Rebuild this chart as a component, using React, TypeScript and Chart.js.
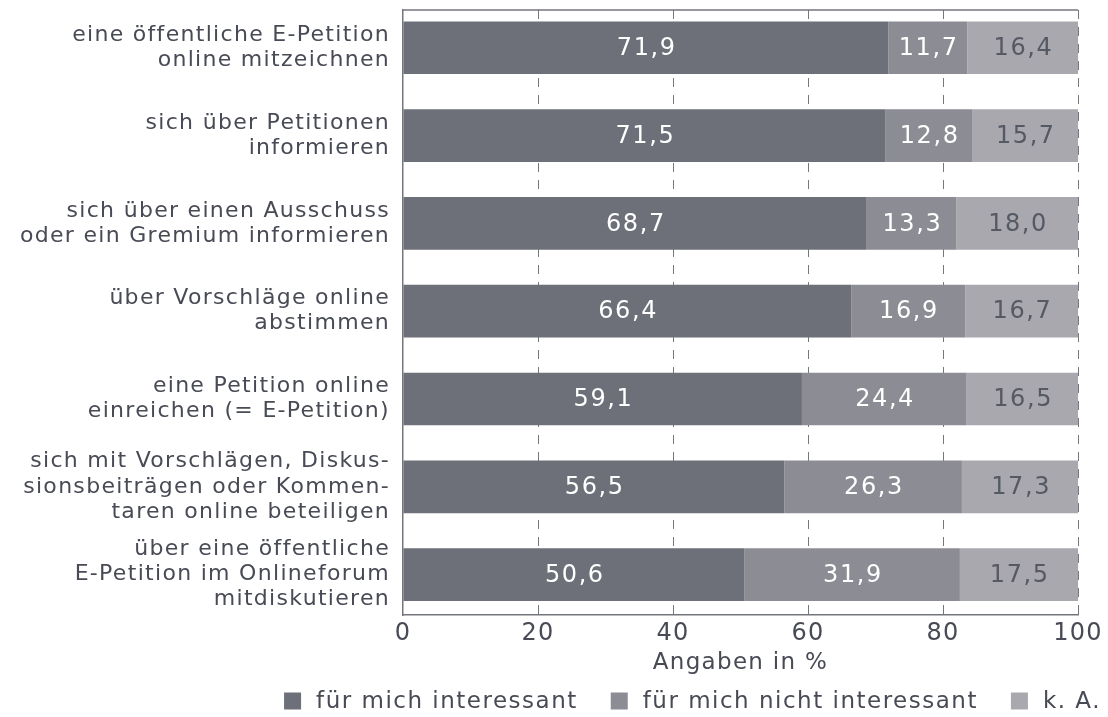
import { useEffect, useRef } from "react";
import { Chart, registerables } from "chart.js";

Chart.register(...registerables);

const CATEGORIES: string[][] = [
  ["eine öffentliche E-Petition", "online mitzeichnen"],
  ["sich über Petitionen", "informieren"],
  ["sich über einen Ausschuss", "oder ein Gremium informieren"],
  ["über Vorschläge online", "abstimmen"],
  ["eine Petition online", "einreichen (= E-Petition)"],
  ["sich mit Vorschlägen, Diskus-", "sionsbeiträgen oder Kommen-", "taren online beteiligen"],
  ["über eine öffentliche", "E-Petition im Onlineforum", "mitdiskutieren"],
];
const INTERESSANT = [71.9, 71.5, 68.7, 66.4, 59.1, 56.5, 50.6];
const NICHT_INTERESSANT = [11.7, 12.8, 13.3, 16.9, 24.4, 26.3, 31.9];
const KEINE_ANGABE = [16.4, 15.7, 18.0, 16.7, 16.5, 17.3, 17.5];
const SERIES_LABELS = ["für mich interessant", "für mich nicht interessant", "k. A."];
const SERIES_COLORS = ["#6e7079", "#8c8c94", "#a9a8ae"];
const VALUE_COLORS = ["#ffffff", "#ffffff", "#555963"];
const X_TICKS = [0, 20, 40, 60, 80, 100];
const X_TITLE = "Angaben in %";

const FONT = "'DejaVu Sans', sans-serif";
const TEXT = "#484b55";
const AXIS = "#74767e";
const LS = 1.3;

const setLS = (chart: any) => {
  (chart.ctx as any).letterSpacing = LS + "px";
};

const decor = {
  id: "decor",
  beforeUpdate: setLS,
  beforeLayout: setLS,
  beforeDraw: setLS,
  afterDatasetsDraw(chart: any) {
    const ctx = chart.ctx;
    ctx.save();
    (ctx as any).letterSpacing = "1.6px";
    ctx.font = `24px ${FONT}`;
    ctx.textAlign = "center";
    ctx.textBaseline = "middle";
    chart.data.datasets.forEach((ds: any, di: number) => {
      const meta = chart.getDatasetMeta(di);
      meta.data.forEach((bar: any, i: number) => {
        const p = bar.getProps(["x", "base", "y"], true);
        const v = ds.data[i].x as number;
        ctx.fillStyle = VALUE_COLORS[di];
        ctx.fillText(v.toFixed(1).replace(".", ","), (p.x + p.base) / 2 + 0.8, p.y + 1);
      });
    });
    ctx.restore();
  },
  afterDraw(chart: any) {
    const ctx = chart.ctx;
    const area = chart.chartArea;
    const xs = chart.scales.x;
    ctx.save();
    ctx.strokeStyle = AXIS;
    ctx.lineWidth = 1.5;
    ctx.beginPath();
    ctx.moveTo(area.left, area.top);
    ctx.lineTo(area.right, area.top);
    ctx.stroke();
    ctx.lineWidth = 1;
    X_TICKS.forEach((t) => {
      if (t === 0) return;
      const px = Math.round(xs.getPixelForValue(t)) + 0.5;
      ctx.beginPath();
      ctx.moveTo(px, area.bottom - 7);
      ctx.lineTo(px, area.bottom);
      ctx.stroke();
    });
    (ctx as any).letterSpacing = "1.5px";
    ctx.font = `23px ${FONT}`;
    ctx.textBaseline = "middle";
    ctx.textAlign = "left";
    const box = 17;
    const gap = 15;
    const itemGap = 33;
    const widths = SERIES_LABELS.map((l) => ctx.measureText(l).width);
    const total = widths.reduce((a, w) => a + box + gap + w, 0) + itemGap * (SERIES_LABELS.length - 1);
    let x = 1101 - total;
    const cy = 701;
    SERIES_LABELS.forEach((l, i) => {
      ctx.fillStyle = SERIES_COLORS[i];
      ctx.fillRect(x, cy - box / 2, box, box);
      x += box + gap;
      ctx.fillStyle = TEXT;
      ctx.fillText(l, x, cy + 1);
      x += widths[i] + itemGap;
    });
    ctx.restore();
  },
};

export default function App() {
  const ref = useRef<HTMLCanvasElement>(null);
  useEffect(() => {
    if (!ref.current) return;
    Chart.defaults.font.family = FONT;
    Chart.defaults.color = TEXT;
    const series = [INTERESSANT, NICHT_INTERESSANT, KEINE_ANGABE];
    const chart = new Chart(ref.current, {
      type: "bar",
      data: {
        datasets: series.map((vals, di) => ({
          label: SERIES_LABELS[di],
          data: vals.map((v, i) => ({ x: v, y: i })),
          backgroundColor: SERIES_COLORS[di],
          borderWidth: 0,
          barPercentage: 0.6,
          categoryPercentage: 1,
        })),
      },
      options: {
        indexAxis: "y",
        animation: false,
        responsive: true,
        maintainAspectRatio: false,
        events: [],
        layout: { padding: { top: 10, right: 30, bottom: 35, left: 0 } },
        plugins: { legend: { display: false }, tooltip: { enabled: false } },
        scales: {
          x: {
            type: "linear",
            stacked: true,
            min: 0,
            max: 100,
            afterBuildTicks: (s: any) => {
              s.ticks = X_TICKS.map((v) => ({ value: v }));
            },
            afterFit: (s: any) => {
              s.height = 67;
            },
            ticks: { font: { size: 24 }, color: TEXT, padding: 4 },
            grid: {
              display: true,
              drawTicks: false,
              lineWidth: 1,
              color: (c: any) => (c.tick && c.tick.value === 0 ? "rgba(0,0,0,0)" : "#75777f"),
            },
            border: { display: true, color: AXIS, width: 1.5, dash: [9, 8] },
            title: {
              display: true,
              text: X_TITLE,
              font: { size: 23 },
              color: TEXT,
              padding: { top: 0, bottom: 5 },
            },
          },
          y: {
            type: "linear",
            stacked: true,
            reverse: true,
            offset: false,
            min: -0.43,
            max: 6.46,
            afterBuildTicks: (s: any) => {
              s.ticks = CATEGORIES.map((_, i) => ({ value: i }));
            },
            afterFit: (s: any) => {
              s.width = 403;
              s.paddingTop = 0;
              s.paddingBottom = 0;
            },
            ticks: {
              autoSkip: false,
              font: { size: 22, lineHeight: 1.14 },
              color: TEXT,
              padding: 13,
              callback: (v: any) => CATEGORIES[v as number] ?? "",
            },
            grid: { display: true, offset: false, drawOnChartArea: false, drawTicks: false },
            border: { display: true, color: AXIS, width: 1.5 },
          },
        },
      },
      plugins: [decor],
    });
    return () => chart.destroy();
  }, []);
  return (
    <div style={{ position: "absolute", left: 0, top: 0, width: 1108, height: 717, background: "#fff" }}>
      <canvas ref={ref} />
    </div>
  );
}
